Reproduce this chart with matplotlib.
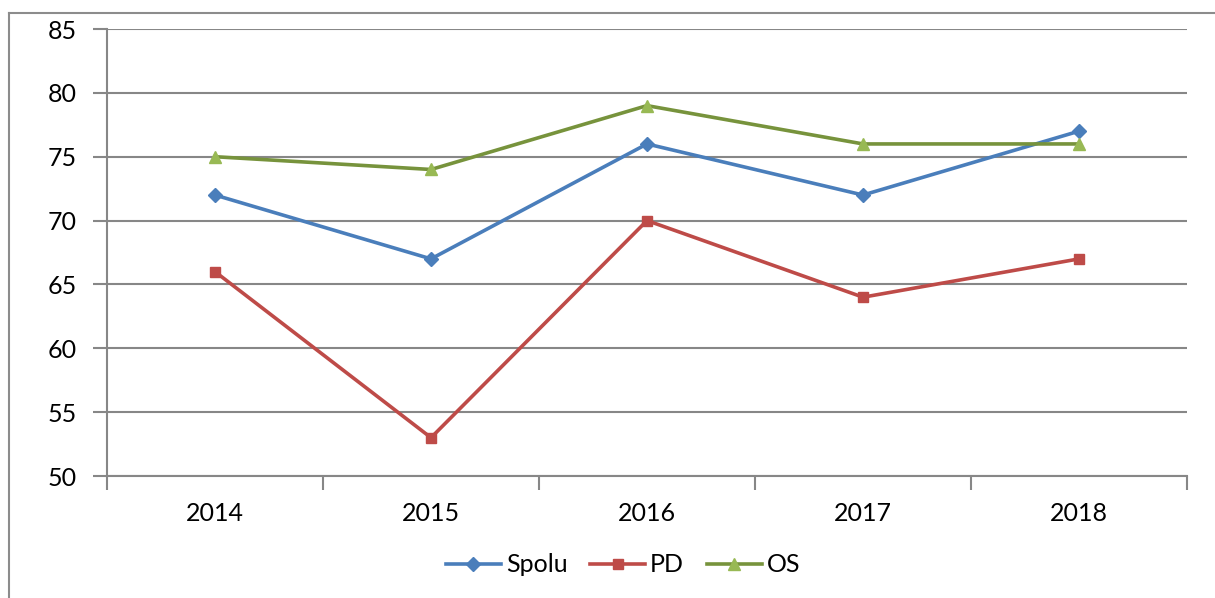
import matplotlib
matplotlib.use("Agg")
import matplotlib.pyplot as plt
from matplotlib.lines import Line2D

years = ["2014", "2015", "2016", "2017", "2018"]
spolu = [72, 67, 76, 72, 77]
pd_vals = [66, 53, 70, 64, 67]
os_vals = [75, 74, 79, 76, 76]

plt.rcParams['font.family'] = ['Lato', 'DejaVu Sans']

W, H = 1215, 598
fig = plt.figure(figsize=(W / 100, H / 100), dpi=100)
ax = fig.add_axes([107 / W, 1 - 476 / H, (1187 - 107) / W, (476 - 29) / H])

grid_c = "#878787"
x = list(range(len(years)))
ax.plot(x, spolu, color="#4A7EBB", lw=2.6, marker="D", ms=7, label="Spolu", zorder=3)
ax.plot(x, pd_vals, color="#BE4B48", lw=2.6, marker="s", ms=7, label="PD", zorder=3)
ax.plot(x, os_vals, color="#77933C", lw=2.6, marker="^", ms=9,
        markerfacecolor="#98B954", markeredgecolor="#98B954", label="OS", zorder=3)

ax.set_xlim(-0.5, 4.5)
ax.set_ylim(50, 85)
ax.set_yticks(range(50, 86, 5))
ax.yaxis.grid(True, color=grid_c, lw=1.5)
ax.set_axisbelow(True)

ax.set_xticks(x)
ax.set_xticklabels(years)
ax.set_xticks([i - 0.5 for i in range(6)], minor=True)
ax.tick_params(axis="x", which="major", length=0, pad=19, labelsize=18)
ax.tick_params(axis="x", which="minor", length=10, color=grid_c, width=1.5)
ax.tick_params(axis="y", length=10, color=grid_c, width=1.5, labelsize=18, pad=12)

for s in ["top", "right"]:
    ax.spines[s].set_visible(False)
for s in ["left", "bottom"]:
    ax.spines[s].set_color(grid_c)
    ax.spines[s].set_linewidth(1.5)

fig.legend(loc="center", bbox_to_anchor=(623 / W, 1 - 565 / H), ncol=3, frameon=False,
           fontsize=18, handlelength=2.2, handletextpad=0.2, columnspacing=0.9)

# outer chart frame
fig.add_artist(Line2D([9 / W, 9 / W], [0, 1 - 13 / H], transform=fig.transFigure, color="#8C8C8C", lw=1.5))
fig.add_artist(Line2D([9 / W, 1], [1 - 13 / H, 1 - 13 / H], transform=fig.transFigure, color="#8C8C8C", lw=1.5))

fig.savefig("out.png", dpi=100)
